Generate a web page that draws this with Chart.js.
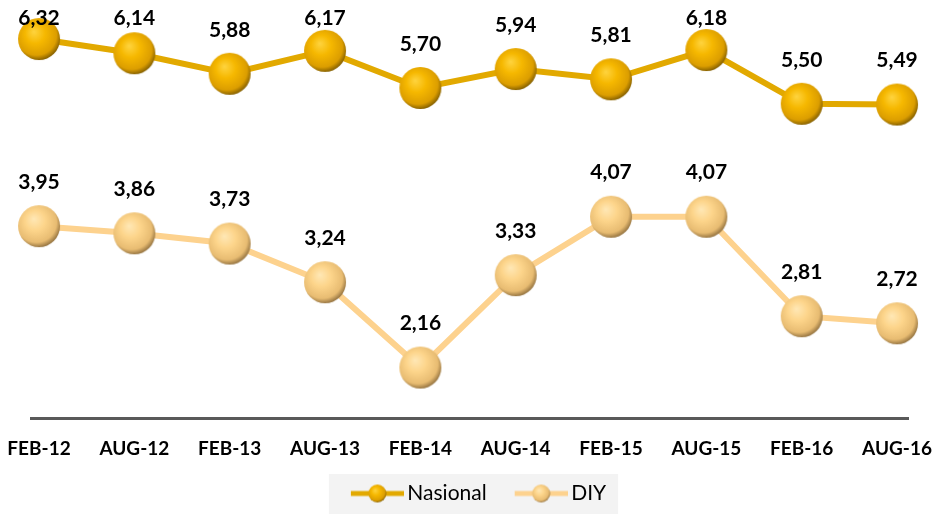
<!DOCTYPE html>
<html>
<head>
<meta charset="utf-8">
<script src="https://cdn.jsdelivr.net/npm/chart.js@4.4.1/dist/chart.umd.min.js"></script>
<style>
    html, body { margin: 0; padding: 0; background: #fff; }
    #wrap { width: 939px; height: 514px; position: relative; }
</style>
</head>
<body>
<div id="wrap"><canvas id="chart"></canvas></div>
<script>
/* ===== DATA ===== */
const periods = ['FEB-12', 'AUG-12', 'FEB-13', 'AUG-13', 'FEB-14', 'AUG-14', 'FEB-15', 'AUG-15', 'FEB-16', 'AUG-16'];
const nasional = [6.32, 6.14, 5.88, 6.17, 5.70, 5.94, 5.81, 6.18, 5.50, 5.49];
const diy = [3.95, 3.86, 3.73, 3.24, 2.16, 3.33, 4.07, 4.07, 2.81, 2.72];
const seriesNames = ['Nasional', 'DIY'];

const FONT = 'Lato, "Open Sans", sans-serif';

// palette for each series: line colour + sphere gradient stops
const styles = [
    { line: '#e2a900', stops: ['#ffd43f', '#f6b800', '#dc9e00', '#7a5800'] },
    { line: '#fdd28e', stops: ['#ffe8b6', '#fdd58b', '#e8bc72', '#8a6a3a'] }
];

/* ===== SPHERE IMAGES ===== */
function drawSphere(ctx, cx, cy, r, stops) {
    const g = ctx.createRadialGradient(cx - r * 0.25, cy - r * 0.35, 0, cx - r * 0.1, cy - r * 0.15, r * 1.2);
    g.addColorStop(0, stops[0]);
    g.addColorStop(0.4, stops[1]);
    g.addColorStop(0.8, stops[2]);
    g.addColorStop(1, stops[3]);
    ctx.beginPath();
    ctx.arc(cx, cy, r, 0, Math.PI * 2);
    ctx.fillStyle = g;
    ctx.fill();
}

function makeSphere(r, stops) {
    const c = document.createElement('canvas');
    c.width = c.height = r * 2 + 2;
    drawSphere(c.getContext('2d'), r + 1, r + 1, r, stops);
    return c;
}

// legend marker: line with small sphere, left part transparent to push it right
function makeLegendIcon(style) {
    const c = document.createElement('canvas');
    c.width = 78;
    c.height = 22;
    const ctx = c.getContext('2d');
    ctx.strokeStyle = style.line;
    ctx.lineWidth = 5;
    ctx.beginPath();
    ctx.moveTo(25, 11);
    ctx.lineTo(78, 11);
    ctx.stroke();
    drawSphere(ctx, 51.5, 11, 9, style.stops);
    return c;
}

const spheres = styles.map(s => makeSphere(21, s.stops));
const legendIcons = styles.map(s => makeLegendIcon(s));

/* ===== PLUGINS ===== */
const valueLabels = {
    id: 'valueLabels',
    afterDatasetsDraw(chart) {
        const ctx = chart.ctx;
        ctx.save();
        ctx.font = 'bold 21px ' + FONT;
        ctx.fillStyle = '#000';
        ctx.textAlign = 'center';
        ctx.textBaseline = 'middle';
        chart.data.datasets.forEach((ds, di) => {
            chart.getDatasetMeta(di).data.forEach((pt, i) => {
                const y = Math.max(pt.y - 44, 18);
                ctx.fillText(ds.data[i].y.toFixed(2).replace('.', ','), pt.x, y);
            });
        });
        ctx.restore();
    }
};

const legendBg = {
    id: 'legendBg',
    beforeDraw(chart) {
        const lg = chart.legend;
        if (!lg || !lg.legendHitBoxes.length) return;
        const boxes = lg.legendHitBoxes;
        const first = boxes[0];
        const last = boxes[boxes.length - 1];
        const ctx = chart.ctx;
        ctx.save();
        ctx.fillStyle = '#f3f3f3';
        const left = first.left - 4;
        const right = last.left + last.width + 12;
        ctx.fillRect(left, lg.top + 1, right - left, chart.height - lg.top);
        ctx.restore();
    }
};

/* ===== CHART ===== */
new Chart(document.getElementById('chart'), {
    type: 'line',
    data: {
        datasets: [nasional, diy].map((vals, di) => ({
            label: seriesNames[di],
            data: vals.map((v, i) => ({ x: i, y: v })),
            borderColor: styles[di].line,
            backgroundColor: styles[di].line,
            borderWidth: 6,
            tension: 0,
            pointStyle: spheres[di],
            pointRadius: 21,
            pointHoverRadius: 21,
            clip: false
        }))
    },
    options: {
        responsive: true,
        maintainAspectRatio: false,
        animation: false,
        layout: { padding: { left: 31, right: 31, top: 11, bottom: 0 } },
        scales: {
            x: {
                type: 'linear',
                min: -0.084,
                max: 9.115,
                grid: { display: false, drawTicks: false },
                border: { display: true, color: '#595959', width: 3 },
                afterBuildTicks: axis => {
                    axis.ticks = periods.map((_, i) => ({ value: i }));
                },
                afterFit: scale => {
                    scale.height = 55;
                    scale.paddingLeft = 0;
                    scale.paddingRight = 0;
                },
                ticks: {
                    autoSkip: false,
                    maxRotation: 0,
                    padding: 19,
                    color: '#000',
                    font: { family: FONT, size: 19, weight: 'bold' },
                    callback: v => periods[v]
                }
            },
            y: {
                display: false,
                min: 1.521,
                max: 6.472
            }
        },
        plugins: {
            legend: {
                position: 'bottom',
                labels: {
                    usePointStyle: true,
                    pointStyleWidth: 64,
                    padding: 10,
                    color: '#000',
                    font: { family: FONT, size: 21 },
                    generateLabels: chart => chart.data.datasets.map((ds, i) => ({
                        text: ds.label,
                        pointStyle: legendIcons[i],
                        fillStyle: ds.borderColor,
                        strokeStyle: ds.borderColor,
                        lineWidth: 0,
                        hidden: false,
                        datasetIndex: i
                    }))
                }
            },
            tooltip: { enabled: false }
        }
    },
    plugins: [legendBg, valueLabels]
});
</script>
</body>
</html>
